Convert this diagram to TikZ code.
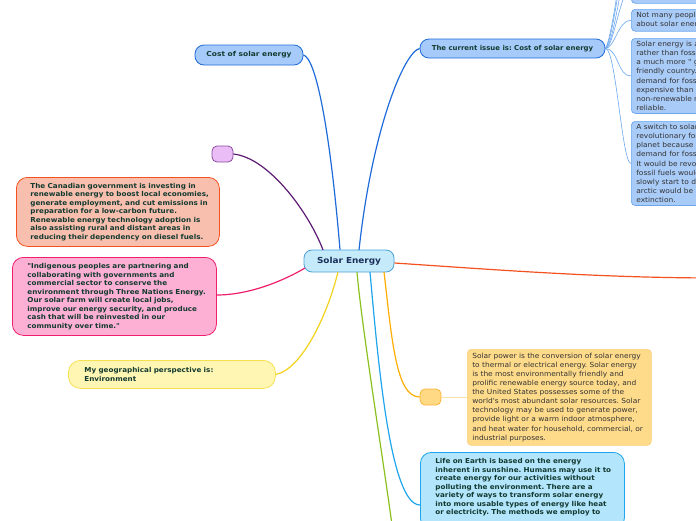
\documentclass[tikz,border=0pt]{standalone}
\usepackage{fontspec}
\setmainfont{DejaVu Sans}
\newfontfamily\boldwide[FakeStretch=1.06]{DejaVu Sans Bold}
\newfontfamily\regwide[FakeStretch=1.065]{DejaVu Sans}
\newfontfamily\costfont[FakeStretch=1.10]{DejaVu Sans Bold}
\newfontfamily\issuefont[FakeStretch=1.02]{DejaVu Sans Bold}
\newfontfamily\rootfont[FakeStretch=1.07]{DejaVu Sans Bold}
\newcommand{\LL}[1]{\mbox{#1}}
\frenchspacing
\begin{document}
\begin{tikzpicture}[x=1pt,y=-1pt,
  conn/.style={line width=1.2pt},
  thinl/.style={line width=0.6pt, draw=subline},
  bold6/.style={font=\boldwide\fontsize{6.8}{8.5}\selectfont\frenchspacing, text=tdark, align=left},
  reg6/.style={font=\regwide\fontsize{7.0}{9.1}\selectfont\frenchspacing, text=treg, align=left},
  bluebox/.style={draw=topicb, fill=topicf, line width=0.8pt, rounded corners=9pt, inner sep=0pt, text=tdark},
  subbox/.style={draw=subline, fill=subf, line width=0.7pt, rounded corners=4pt, anchor=north west, inner xsep=5pt, inner ysep=3pt, reg6, text width=120pt},
  bigbox/.style={line width=0.8pt, rounded corners=11pt, anchor=north west, inner ysep=4pt, bold6}
]
\definecolor{tdark}{HTML}{133A30}
\definecolor{treg}{HTML}{333333}
\definecolor{rootd}{HTML}{4A9FD6}
\definecolor{rootf}{HTML}{C5EBFB}
\definecolor{roott}{HTML}{1A2E5A}
\definecolor{topicb}{HTML}{1E6AD8}
\definecolor{topicf}{HTML}{A6CBFA}
\definecolor{subline}{HTML}{6AA6EE}
\definecolor{subf}{HTML}{A9CBF8}
\definecolor{cpurple}{HTML}{5C1A73}
\definecolor{purplef}{HTML}{EBBDF7}
\definecolor{purpled}{HTML}{8A4A9E}
\definecolor{cpink}{HTML}{EF1F6C}
\definecolor{pinkf}{HTML}{FDB0D4}
\definecolor{cyellow}{HTML}{F2D31B}
\definecolor{yellowf}{HTML}{FFF6B3}
\definecolor{yellowd}{HTML}{F7E050}
\definecolor{corange}{HTML}{F4511E}
\definecolor{salmonf}{HTML}{F9BFAE}
\definecolor{camber}{HTML}{FFAD00}
\definecolor{amberf}{HTML}{FFD983}
\definecolor{amberd}{HTML}{FBB53B}
\definecolor{amtextf}{HTML}{FEDB8A}
\definecolor{amtextd}{HTML}{FBD07A}
\definecolor{amline}{HTML}{FDE2A0}
\definecolor{clblue}{HTML}{1EA5EC}
\definecolor{lbluef}{HTML}{B3E5FC}
\definecolor{cgreen}{HTML}{8AC11F}
\useasboundingbox (0,0) rectangle (696,520);
\clip (0,0) rectangle (696,520);

% central node
\node[draw=rootd, fill=rootf, line width=0.8pt, rounded corners=8pt,
  minimum width=90pt, minimum height=22pt, inner sep=0pt,
  font=\rootfont\fontsize{8.3}{9}\selectfont, text=roott] (root) at (349,261) {Solar Energy};

% blue topics
\node[bluebox, minimum width=108pt, minimum height=20pt, font=\costfont\fontsize{6.8}{8}\selectfont] (cost) at (249,55) {Cost of solar energy};
\node[bluebox, minimum width=185pt, minimum height=19pt, font=\issuefont\fontsize{6.8}{8}\selectfont] (issue) at (512.5,48.5) {The current issue is: Cost of solar energy};

% right subtopics (cut by page edge)
\node[subbox, minimum height=30pt] (s1) at (631,-27) {~\\~};
\node[subbox] (s2) at (631,9) {Not many people know\\about solar energy};
\node[subbox] (s3) at (631,38) {Solar energy is a\\rather than fossil\\a much more " green\\friendly country.\\demand for fossil\\expensive than a\\non-renewable r\\reliable.};
\node[subbox] (s4) at (631,121) {A switch to solar\\revolutionary for\\planet because it\\demand for fossil\\It would be revo\\fossil fuels would\\slowly start to d\\arctic would be a\\extinction.};
\coordinate (up1) at (631,-60);
\coordinate (up2) at (631,-90);
\coordinate (up3) at (631,-120);

% purple empty node
\node[draw=purpled, fill=purplef, line width=0.8pt, rounded corners=5pt,
  minimum width=21pt, minimum height=16pt, inner sep=0pt] (purp) at (222.5,154) {};

% salmon box
\node[bigbox, draw=corange, fill=salmonf, text width=175pt, inner xsep=14pt, minimum height=69pt] (salmon) at (16,177) {\LL{The Canadian government is investing in}\\\LL{renewable energy to boost local economies,}\\\LL{generate employment, and cut emissions in}\\\LL{preparation for a low-carbon future.}\\\LL{Renewable energy technology adoption is}\\\LL{also assisting rural and distant areas in}\\\LL{reducing their dependency on diesel fuels.}};

% pink box
\node[bigbox, draw=cpink, fill=pinkf, text width=174pt, inner xsep=15pt, minimum height=78pt] (pink) at (12,257) {\LL{"Indigenous peoples are partnering and}\\\LL{collaborating with governments and}\\\LL{commercial sector to conserve the}\\\LL{environment through Three Nations Energy.}\\\LL{Our solar farm will create local jobs,}\\\LL{improve our energy security, and produce}\\\LL{cash that will be reinvested in our}\\\LL{community over time."}};

% yellow box
\node[bigbox, draw=yellowd, fill=yellowf, text width=175pt, inner xsep=16pt, minimum height=28pt, rounded corners=12pt] (yellow) at (68,360) {My geographical perspective is:\\Environment};

% amber small node and text
\node[draw=amberd, fill=amberf, line width=0.8pt, rounded corners=5pt,
  minimum width=21pt, minimum height=16pt, inner sep=0pt] (amb) at (430.5,397) {};
\node[draw=amtextd, fill=amtextf, line width=0.6pt, rounded corners=4pt, anchor=north west,
  inner xsep=5pt, inner ysep=3pt, reg6, text width=174pt, minimum height=96pt] (amtext) at (467,349) {\LL{Solar power is the conversion of solar energy}\\\LL{to thermal or electrical energy. Solar energy}\\\LL{is the most environmentally friendly and}\\\LL{prolific renewable energy source today, and}\\\LL{the United States possesses some of the}\\\LL{world's most abundant solar resources. Solar}\\\LL{technology may be used to generate power,}\\\LL{provide light or a warm indoor atmosphere,}\\\LL{and heat water for household, commercial, or}\\\LL{industrial purposes.}};

% light blue box
\node[bigbox, draw=clblue, fill=lbluef, text width=174pt, inner xsep=15pt, inner ysep=6pt] (lblue) at (420,452) {\LL{Life on Earth is based on the energy}\\\LL{inherent in sunshine. Humans may use it to}\\\LL{create energy for our activities without}\\\LL{polluting the environment. There are a}\\\LL{variety of ways to transform solar energy}\\\LL{into more usable types of energy like heat}\\\LL{or electricity. The methods we employ to}\\~};

\coordinate (rightend) at (720,278);
\coordinate (greenend) at (394,540);

% main connectors
\draw[conn, topicb] (cost.east) .. controls (316,58) and (330,130) .. (root.north west -| 340,0);
\draw[conn, topicb] (issue.west) .. controls (404,52) and (372,130) .. (359,250);
\draw[conn, cpurple] (purp.east) .. controls (270,158) and (310,215) .. (323,250);
\draw[conn, cpink] (pink.east |- 0,295) .. controls (250,295) and (285,280) .. (305,268);
\draw[conn, cyellow] (yellow.east) .. controls (300,370) and (326,320) .. (338,272);
\draw[conn, corange] (root.east |- 0,263) .. controls (500,270) and (600,278) .. (rightend);
\draw[conn, camber] (384,272) .. controls (392,340) and (396,397) .. (amb.west);
\draw[conn, clblue] (370,272) .. controls (378,360) and (390,505) .. (lblue.west |- 0,505);
\draw[conn, cgreen] (357,272) .. controls (362,330) and (385,470) .. (greenend);
\draw[line width=0.8pt, amline] (amb.east) -- (amtext.west |- amb.east);

% subtopic connectors
\draw[thinl] (issue.east) .. controls (615,48) and (618,20) .. (s2.west);
\draw[thinl] (issue.east) .. controls (618,48) and (618,77) .. (s3.west);
\draw[thinl] (issue.east) .. controls (616,48) and (622,164) .. (s4.west);
\draw[thinl] (issue.east) .. controls (614,48) and (620,-10) .. (s1.west);
\draw[thinl] (issue.east) .. controls (613,44) and (618,0) .. (up1);
\draw[thinl] (issue.east) .. controls (612,42) and (620,-20) .. (up2);
\draw[thinl] (issue.east) .. controls (611,40) and (622,-30) .. (up3);
\end{tikzpicture}
\end{document}
